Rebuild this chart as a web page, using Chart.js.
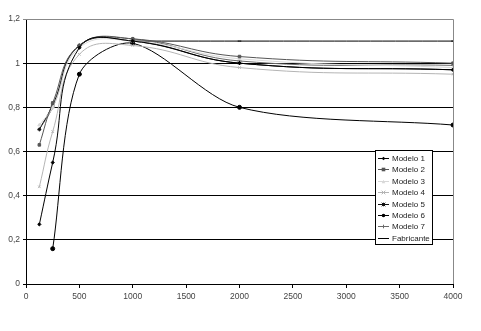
<!DOCTYPE html>
<html>
<head>
<meta charset="utf-8">
<script src="https://cdn.jsdelivr.net/npm/chart.js@4/dist/chart.umd.min.js"></script>
<style>
html,body{margin:0;padding:0;background:#fff;}
#c{display:block;}
</style>
</head>
<body>
<canvas id="c" width="481" height="331"></canvas>
<script>
// ---- data ----
const xValues = [125, 250, 500, 1000, 2000, 4000];
const seriesNames = ["Modelo 1","Modelo 2","Modelo 3","Modelo 4","Modelo 5","Modelo 6","Modelo 7","Fabricante"];
const modelo1 = [0.27, 0.55, 1.07, 1.10, 1.00, 0.97];
const modelo2 = [0.63, 0.82, 1.08, 1.11, 1.03, 1.00];
const modelo3 = [0.72, 0.80, 1.07, 1.10, 1.02, 0.98];
const modelo4 = [0.44, 0.69, 1.04, 1.08, 0.98, 0.95];
const modelo5 = [0.70, 0.81, 1.08, 1.10, 1.00, 0.97];
const modelo6 = [null, 0.16, 0.95, 1.09, 0.80, 0.72];
const modelo7 = [0.70, 0.80, 1.08, 1.11, 1.01, 0.99];
const fabricante = [null, null, null, 1.10, 1.10, 1.10];
const yTicks = [0, 0.2, 0.4, 0.6, 0.8, 1, 1.2];
const xTicks = [0, 500, 1000, 1500, 2000, 2500, 3000, 3500, 4000];

const allValues = [modelo1, modelo2, modelo3, modelo4, modelo5, modelo6, modelo7, fabricante];
const colors = ["#000000","#555555","#d8d8d8","#b4b4b4","#111111","#000000","#6a6a6a","#000000"];
const markers = ["rectRot","rect","triangle","crossRot","star","circle","cross","line"];
const radii = [1.6, 1.8, 1.8, 1.8, 1.8, 2, 2, 1.8];
const tensions = [0.45, 0.45, 0.45, 0.45, 0.45, 0.3, 0.45, 0.4];

const datasets = seriesNames.map((n, i) => ({
  label: n,
  data: xValues.map((x, j) => ({x: x, y: allValues[i][j]})),
  borderColor: colors[i],
  backgroundColor: colors[i],
  borderWidth: 1,
  pointStyle: markers[i],
  pointRadius: radii[i],
  pointBorderWidth: 1,
  tension: tensions[i],
  fill: false,
  spanGaps: false
}));

function fmt(v){
  return String(Math.round(v*10)/10).replace('.', ',');
}

function drawMarker(ctx, style, x, y, r, color){
  ctx.save();
  ctx.strokeStyle = color; ctx.fillStyle = color; ctx.lineWidth = 1;
  ctx.beginPath();
  switch(style){
    case 'rectRot':
      ctx.moveTo(x, y-r); ctx.lineTo(x+r, y); ctx.lineTo(x, y+r); ctx.lineTo(x-r, y); ctx.closePath(); ctx.fill(); break;
    case 'rect':
      ctx.rect(x-r, y-r, 2*r, 2*r); ctx.fill(); break;
    case 'triangle':
      ctx.moveTo(x, y-r); ctx.lineTo(x+r, y+r); ctx.lineTo(x-r, y+r); ctx.closePath(); ctx.fill(); break;
    case 'crossRot':
      ctx.moveTo(x-r, y-r); ctx.lineTo(x+r, y+r); ctx.moveTo(x+r, y-r); ctx.lineTo(x-r, y+r); ctx.stroke(); break;
    case 'star':
      ctx.moveTo(x-r, y); ctx.lineTo(x+r, y); ctx.moveTo(x, y-r); ctx.lineTo(x, y+r);
      ctx.moveTo(x-r, y-r); ctx.lineTo(x+r, y+r); ctx.moveTo(x+r, y-r); ctx.lineTo(x-r, y+r); ctx.stroke(); break;
    case 'circle':
      ctx.arc(x, y, r, 0, Math.PI*2); ctx.fill(); break;
    case 'cross':
      ctx.moveTo(x-r, y); ctx.lineTo(x+r, y); ctx.moveTo(x, y-r); ctx.lineTo(x, y+r); ctx.stroke(); break;
    default:
      ctx.moveTo(x-r, y); ctx.lineTo(x+r, y); ctx.stroke();
  }
  ctx.restore();
}

const frame = {
  id: 'frame',
  beforeDatasetsDraw(chart){
    const {ctx, chartArea: a} = chart;
    ctx.save();
    ctx.strokeStyle = '#888888'; ctx.lineWidth = 1;
    ctx.beginPath();
    ctx.moveTo(a.left, a.top + 0.5); ctx.lineTo(a.right + 0.5, a.top + 0.5);
    ctx.lineTo(a.right + 0.5, a.bottom);
    ctx.stroke();
    ctx.restore();
  },
  afterDatasetsDraw(chart){
    const ctx = chart.ctx;
    const bx = 375.5, by = 150.5, bw = 57, bh = 94;
    ctx.save();
    ctx.fillStyle = '#ffffff';
    ctx.fillRect(bx, by, bw, bh);
    ctx.strokeStyle = '#000000'; ctx.lineWidth = 1;
    ctx.strokeRect(bx, by, bw, bh);
    ctx.font = '8px "Liberation Sans", Arial, sans-serif';
    ctx.textBaseline = 'middle';
    chart.data.datasets.forEach((ds, i) => {
      const y = Math.round(by + 7.5 + i * 11.4) + 0.5;
      ctx.strokeStyle = ds.borderColor; ctx.lineWidth = 1;
      ctx.beginPath(); ctx.moveTo(378, y); ctx.lineTo(389, y); ctx.stroke();
      drawMarker(ctx, ds.pointStyle, 383.5, y, 1.8, ds.borderColor);
      ctx.fillStyle = '#222222';
      ctx.fillText(ds.label, 392, y + 0.5);
    });
    ctx.restore();
  }
};

new Chart(document.getElementById('c'), {
  type: 'line',
  data: { datasets: datasets },
  options: {
    responsive: false,
    animation: false,
    events: [],
    layout: { padding: { top: 19, right: 28, left: 0, bottom: 0 } },
    plugins: { legend: { display: false }, tooltip: { enabled: false } },
    scales: {
      x: {
        type: 'linear', min: 0, max: 4000,
        afterFit(s){ s.height = 47; },
        afterBuildTicks(s){ s.ticks = xTicks.map(v => ({value: v})); },
        grid: { drawOnChartArea: false, color: '#000', tickLength: 4, tickWidth: 1 },
        border: { color: '#000', width: 1 },
        ticks: { color: '#444', font: { family: '"Liberation Sans", Arial, sans-serif', size: 8.5 }, padding: 4, maxRotation: 0, autoSkip: false, callback: v => String(v) }
      },
      y: {
        min: 0, max: 1.2,
        afterFit(s){ s.width = 26; },
        afterBuildTicks(s){ s.ticks = yTicks.map(v => ({value: v})); },
        grid: { color: ctx => (ctx.tick && ctx.tick.value >= 1.19) ? '#888888' : '#000000', tickLength: 3, lineWidth: 1 },
        border: { color: '#000', width: 1 },
        ticks: { color: '#444', font: { family: '"Liberation Sans", Arial, sans-serif', size: 8.5 }, padding: 3, callback: v => fmt(v) }
      }
    }
  },
  plugins: [frame]
});
</script>
</body>
</html>
